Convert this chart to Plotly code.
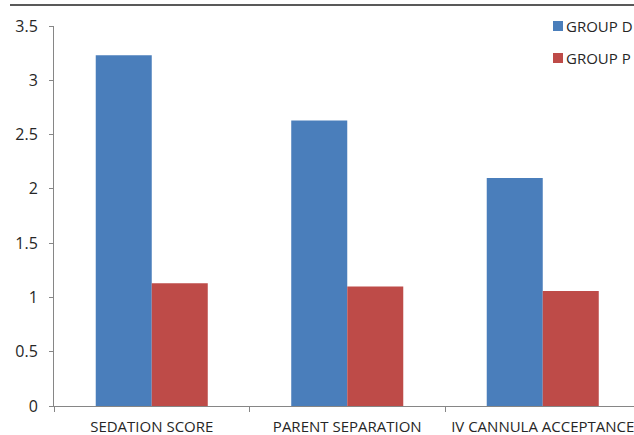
import plotly.graph_objects as go

# Outcome scores by group
categories = ["SEDATION SCORE", "PARENT SEPARATION", "IV CANNULA ACCEPTANCE"]
series_names = ["GROUP D", "GROUP P"]
group_d = [3.23, 2.63, 2.10]
group_p = [1.13, 1.10, 1.06]
y_ticks = [0, 0.5, 1, 1.5, 2, 2.5, 3, 3.5]
y_tick_labels = ["0", "0.5", "1", "1.5", "2", "2.5", "3", "3.5"]

colors = ["#4A7EBB", "#BE4B48"]
font_family = "Open Sans"
axis_color = "#868686"
text_color = "#262626"

W, H = 634, 435
margin_l, margin_r, margin_t, margin_b = 54, 0, 26, 29
cat_px = 195.5

fig = go.Figure()
for name, vals, col in zip(series_names, [group_d, group_p], colors):
    fig.add_trace(go.Bar(
        x=categories, y=vals, name=name,
        marker=dict(color=col, line=dict(width=0)),
        showlegend=False,
    ))

# Legend drawn as colour swatches with labels, top right
plot_w = W - margin_l - margin_r
plot_h = H - margin_t - margin_b
legend_left_px = 553
legend_rows_px = [26, 58]
for name, col, yc in zip(series_names, colors, legend_rows_px):
    x0 = (legend_left_px - margin_l) / plot_w
    x1 = (legend_left_px + 10 - margin_l) / plot_w
    y0 = 1 - (yc - 5 - margin_t) / plot_h
    y1 = 1 - (yc + 5 - margin_t) / plot_h
    fig.add_shape(type="rect", xref="paper", yref="paper",
                  x0=x0, x1=x1, y0=y0, y1=y1,
                  fillcolor=col, line=dict(width=0))
    fig.add_annotation(xref="paper", yref="paper",
                       x=(legend_left_px + 11 - margin_l) / plot_w,
                       y=1 - (yc - margin_t) / plot_h,
                       text=name, showarrow=False,
                       xanchor="left", yanchor="middle",
                       font=dict(family=font_family, size=15, color=text_color))

# Top frame line of the chart area
fig.add_shape(type="line", xref="paper", yref="paper",
              x0=(10 - margin_l) / plot_w, x1=1.05,
              y0=1 + (margin_t - 5) / plot_h, y1=1 + (margin_t - 5) / plot_h,
              line=dict(color="#595959", width=2))

fig.update_layout(
    width=W, height=H,
    margin=dict(l=margin_l, r=margin_r, t=margin_t, b=margin_b, autoexpand=False),
    paper_bgcolor="white", plot_bgcolor="white",
    barmode="group", bargap=0.427, bargroupgap=0,
    font=dict(family=font_family, size=15, color=text_color),
    showlegend=False,
)
fig.update_xaxes(
    range=[-0.5, -0.5 + plot_w / cat_px],
    showline=True, linecolor=axis_color, linewidth=1,
    ticks="outside", tickson="boundaries", ticklen=5, tickcolor=axis_color,
    showgrid=False, zeroline=False, automargin=False,
    ticklabelstandoff=7,
    tickfont=dict(family=font_family, size=15, color=text_color),
)
fig.update_yaxes(
    range=[0, 3.5], tickvals=y_ticks, ticktext=y_tick_labels,
    showline=True, linecolor=axis_color, linewidth=1,
    ticks="outside", ticklen=4, tickcolor=axis_color,
    showgrid=False, zeroline=False, automargin=False,
    ticklabelstandoff=8,
    tickfont=dict(family=font_family, size=16, color=text_color),
)

fig.write_html("out.html")
